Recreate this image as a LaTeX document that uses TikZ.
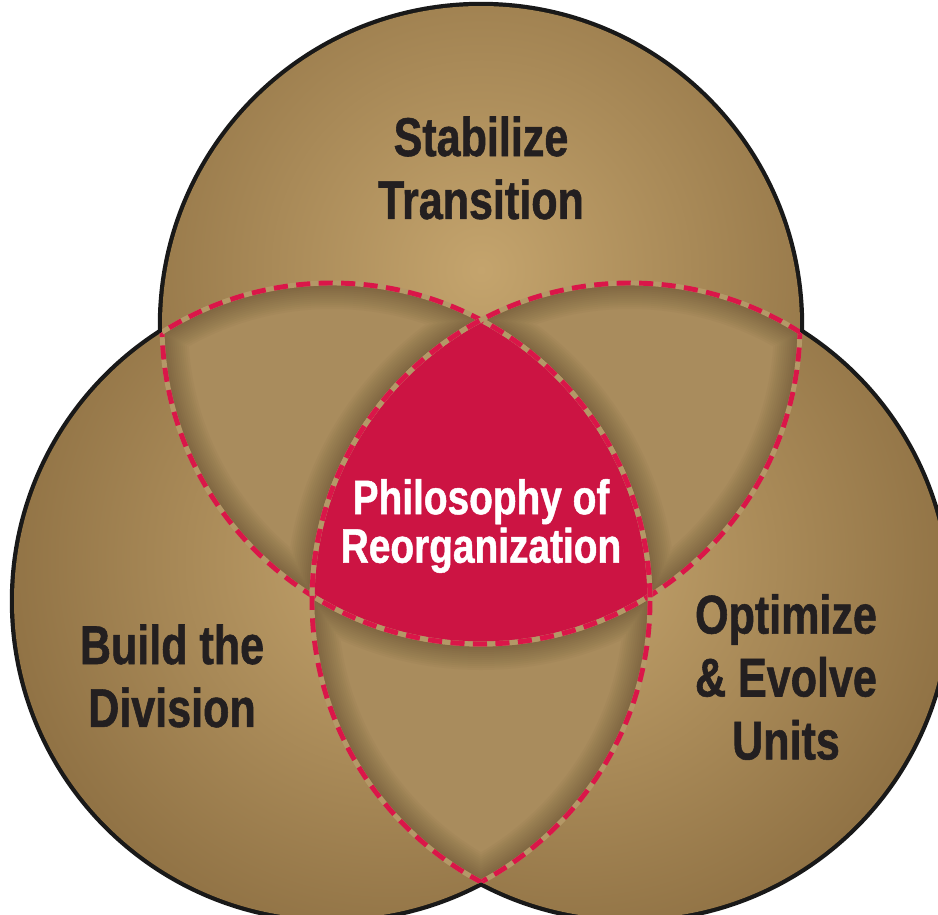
\documentclass[tikz,border=0pt]{standalone}
\usepackage{fontspec}
\setmainfont{Liberation Sans}
\newfontfamily\condfont[FakeStretch=0.79,FakeBold=1]{Liberation Sans}
\newfontfamily\corefont[FakeStretch=0.8,FakeBold=1]{Liberation Sans}
\definecolor{ringlight}{HTML}{C4A46D}
\definecolor{ringdark}{HTML}{8D6F42}
\definecolor{lensc}{HTML}{A98C5D}
\definecolor{shadowc}{HTML}{3A2C16}
\definecolor{corered}{HTML}{CC1443}
\definecolor{dashred}{HTML}{DA1649}
\definecolor{tanline}{HTML}{B49867}
\definecolor{inkc}{HTML}{231F20}
\begin{document}
\begin{tikzpicture}[x=0.01cm,y=-0.01cm,
  outline/.style={draw=black!90,line width=2.4pt},
  tanedge/.style={draw=tanline,line width=1.4pt},
  rededge/.style={draw=dashred,line width=1.4pt,dash pattern=on 4pt off 2.4pt},
  lab/.style={font=\condfont\bfseries\fontsize{15.5}{17.9}\selectfont,align=center,text=inkc,inner sep=0pt},
  whitelab/.style={font=\corefont\bfseries\fontsize{13.8}{13.8}\selectfont,align=center,text=white,inner sep=0pt}]
\useasboundingbox (0,0) rectangle (938,915);
\coordinate (T) at (481,325);
\coordinate (L) at (332,601);
\coordinate (R) at (630,601);
\def\rT{319}\def\rL{318}\def\rR{318}
% outer outline
\draw[outline] (T) circle (\rT) (L) circle (\rL) (R) circle (\rR);
% shaded circles
\begin{scope}\clip (L) circle (\rL);
  \fill[inner color=ringlight,outer color=ringdark] (395,560) circle (420);
\end{scope}
\begin{scope}\clip (R) circle (\rR);
  \fill[inner color=ringlight,outer color=ringdark] (567,560) circle (420);
\end{scope}
\begin{scope}\clip (T) circle (\rT);
  \fill[inner color=ringlight,outer color=ringdark] (481,270) circle (420);
\end{scope}
% lenses with inner shadow
\foreach \a/\ra/\b/\rb/\c/\rc in {T/\rT/L/\rL/R/\rR, T/\rT/R/\rR/L/\rL, L/\rL/R/\rR/T/\rT}{
  \begin{scope}
    \clip (\a) circle (\ra);
    \clip (\b) circle (\rb);
    \fill[lensc] (0,0) rectangle (938,915);
    \foreach \w in {4,8,...,52}{
      \draw[shadowc,opacity=0.032,line width=\w*0.2845pt] (\a) circle (\ra) (\b) circle (\rb) (\c) circle (\rc);
    }
  \end{scope}
}
% central region
\begin{scope}
  \clip (T) circle (\rT);
  \clip (L) circle (\rL);
  \fill[corered] (R) circle (\rR);
\end{scope}
% dashed interior arcs
\foreach \x/\rx/\y/\ry in {T/\rT/L/\rL, T/\rT/R/\rR, L/\rL/T/\rT, L/\rL/R/\rR, R/\rR/T/\rT, R/\rR/L/\rL}{
  \begin{scope}
    \clip (\y) circle (\ry);
    \draw[tanedge] (\x) circle (\rx);
    \draw[rededge] (\x) circle (\rx);
  \end{scope}
}
% labels
\node[lab] (top) at (481,168) {Stabilize\\Transition};
\node[whitelab] (core) at (481,526) {Philosophy of\\Reorganization};
\node[lab] (left) at (172,676) {Build the\\Division};
\node[lab] (right) at (786,677) {Optimize\\\& Evolve\\Units};
\end{tikzpicture}
\end{document}
